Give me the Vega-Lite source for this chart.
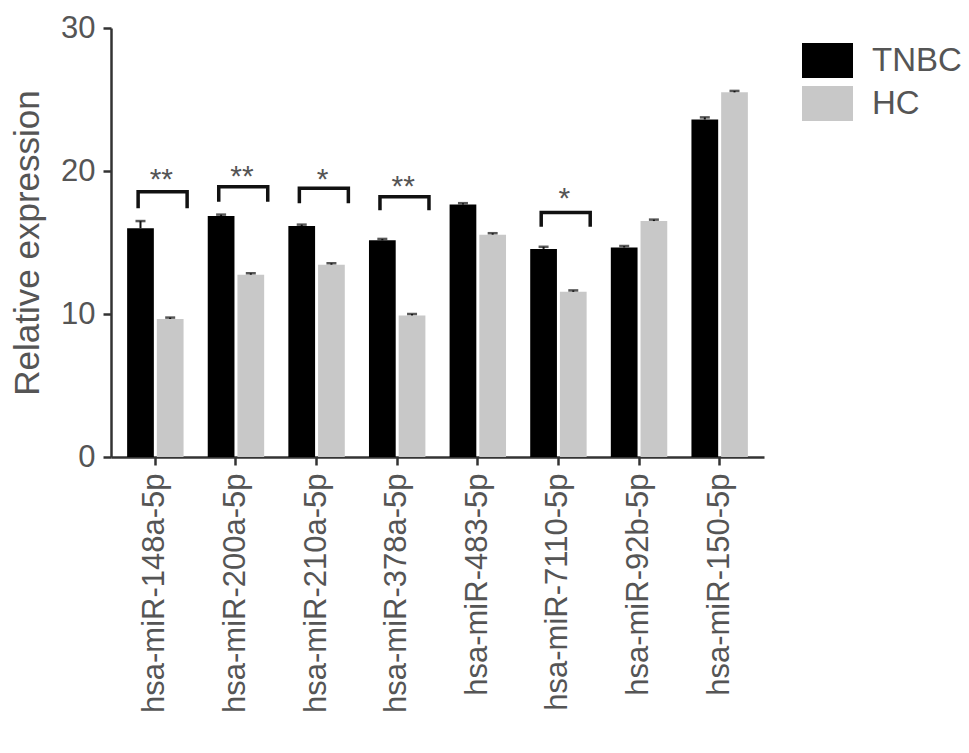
{
  "$schema": "https://vega.github.io/schema/vega-lite/v6.json",
  "autosize": "none",
  "width": 653,
  "height": 429,
  "padding": {"left": 111, "top": 28, "right": 205, "bottom": 296},
  "background": "white",
  "config": {
    "font": "Liberation Sans",
    "view": {"stroke": null}
  },
  "datasets": {
    "bars": [
      {"mirna": "hsa-miR-148a-5p", "group": "TNBC", "value": 16.0, "upper": 16.5},
      {"mirna": "hsa-miR-148a-5p", "group": "HC", "value": 9.65, "upper": 9.75},
      {"mirna": "hsa-miR-200a-5p", "group": "TNBC", "value": 16.85, "upper": 16.95},
      {"mirna": "hsa-miR-200a-5p", "group": "HC", "value": 12.75, "upper": 12.85},
      {"mirna": "hsa-miR-210a-5p", "group": "TNBC", "value": 16.15, "upper": 16.25},
      {"mirna": "hsa-miR-210a-5p", "group": "HC", "value": 13.45, "upper": 13.55},
      {"mirna": "hsa-miR-378a-5p", "group": "TNBC", "value": 15.15, "upper": 15.25},
      {"mirna": "hsa-miR-378a-5p", "group": "HC", "value": 9.9, "upper": 10.0},
      {"mirna": "hsa-miR-483-5p", "group": "TNBC", "value": 17.65, "upper": 17.75},
      {"mirna": "hsa-miR-483-5p", "group": "HC", "value": 15.55, "upper": 15.65},
      {"mirna": "hsa-miR-7110-5p", "group": "TNBC", "value": 14.55, "upper": 14.7},
      {"mirna": "hsa-miR-7110-5p", "group": "HC", "value": 11.55, "upper": 11.65},
      {"mirna": "hsa-miR-92b-5p", "group": "TNBC", "value": 14.65, "upper": 14.75},
      {"mirna": "hsa-miR-92b-5p", "group": "HC", "value": 16.5, "upper": 16.6},
      {"mirna": "hsa-miR-150-5p", "group": "TNBC", "value": 23.6, "upper": 23.75},
      {"mirna": "hsa-miR-150-5p", "group": "HC", "value": 25.5, "upper": 25.6}
    ],
    "brackets": [
      {"mirna": "hsa-miR-148a-5p", "group": "TNBC", "y": 17.4, "ord": 1},
      {"mirna": "hsa-miR-148a-5p", "group": "TNBC", "y": 18.55, "ord": 2},
      {"mirna": "hsa-miR-148a-5p", "group": "HC", "y": 18.55, "ord": 3},
      {"mirna": "hsa-miR-148a-5p", "group": "HC", "y": 17.4, "ord": 4},
      {"mirna": "hsa-miR-200a-5p", "group": "TNBC", "y": 17.85, "ord": 1},
      {"mirna": "hsa-miR-200a-5p", "group": "TNBC", "y": 18.9, "ord": 2},
      {"mirna": "hsa-miR-200a-5p", "group": "HC", "y": 18.9, "ord": 3},
      {"mirna": "hsa-miR-200a-5p", "group": "HC", "y": 17.85, "ord": 4},
      {"mirna": "hsa-miR-210a-5p", "group": "TNBC", "y": 17.75, "ord": 1},
      {"mirna": "hsa-miR-210a-5p", "group": "TNBC", "y": 18.8, "ord": 2},
      {"mirna": "hsa-miR-210a-5p", "group": "HC", "y": 18.8, "ord": 3},
      {"mirna": "hsa-miR-210a-5p", "group": "HC", "y": 17.75, "ord": 4},
      {"mirna": "hsa-miR-378a-5p", "group": "TNBC", "y": 17.25, "ord": 1},
      {"mirna": "hsa-miR-378a-5p", "group": "TNBC", "y": 18.2, "ord": 2},
      {"mirna": "hsa-miR-378a-5p", "group": "HC", "y": 18.2, "ord": 3},
      {"mirna": "hsa-miR-378a-5p", "group": "HC", "y": 17.25, "ord": 4},
      {"mirna": "hsa-miR-7110-5p", "group": "TNBC", "y": 16.1, "ord": 1},
      {"mirna": "hsa-miR-7110-5p", "group": "TNBC", "y": 17.1, "ord": 2},
      {"mirna": "hsa-miR-7110-5p", "group": "HC", "y": 17.1, "ord": 3},
      {"mirna": "hsa-miR-7110-5p", "group": "HC", "y": 16.1, "ord": 4}
    ],
    "stars": [
      {"mirna": "hsa-miR-148a-5p", "label": "**", "y": 19.85},
      {"mirna": "hsa-miR-200a-5p", "label": "**", "y": 20.05},
      {"mirna": "hsa-miR-210a-5p", "label": "*", "y": 19.85},
      {"mirna": "hsa-miR-378a-5p", "label": "**", "y": 19.35},
      {"mirna": "hsa-miR-7110-5p", "label": "*", "y": 18.5}
    ]
  },
  "resolve": {"scale": {"xOffset": "independent"}},
  "encoding": {
    "x": {
      "field": "mirna",
      "type": "nominal",
      "sort": ["hsa-miR-148a-5p", "hsa-miR-200a-5p", "hsa-miR-210a-5p", "hsa-miR-378a-5p", "hsa-miR-483-5p", "hsa-miR-7110-5p", "hsa-miR-92b-5p", "hsa-miR-150-5p"],
      "scale": {"paddingInner": 0.3, "paddingOuter": 0.2},
      "axis": {
        "title": null,
        "labelAngle": -90,
        "labelAlign": "right",
        "labelBaseline": "middle",
        "labelFontSize": 31,
        "labelLimit": 0,
        "labelColor": "#555555",
        "labelPadding": 8,
        "tickSize": 8,
        "tickWidth": 2.5,
        "tickColor": "#333333",
        "domainColor": "#333333",
        "domainWidth": 2.5
      }
    }
  },
  "layer": [
    {
      "data": {"name": "bars"},
      "mark": {"type": "bar"},
      "encoding": {
        "xOffset": {"field": "group", "type": "nominal", "sort": ["TNBC", "HC"], "scale": {"paddingInner": 0.1}},
        "y": {
          "field": "value",
          "type": "quantitative",
          "scale": {"domain": [0, 30], "nice": false},
          "axis": {
            "values": [0, 10, 20, 30],
            "title": "Relative expression",
            "titleFontSize": 35,
            "titleFontWeight": "normal",
            "titleColor": "#555555",
            "titlePadding": 15,
            "labelFontSize": 31,
            "labelColor": "#555555",
            "labelPadding": 8,
            "tickSize": 8,
            "tickWidth": 2.5,
            "tickColor": "#333333",
            "domainColor": "#333333",
            "domainWidth": 2.5,
            "grid": false
          }
        },
        "color": {
          "field": "group",
          "type": "nominal",
          "sort": ["TNBC", "HC"],
          "scale": {"domain": ["TNBC", "HC"], "range": ["#000000", "#c8c8c8"]},
          "legend": {
            "title": null,
            "orient": "none",
            "legendX": 691,
            "legendY": 7,
            "symbolType": "M-1,-0.686H1V0.686H-1Z",
            "symbolSize": 2601,
            "symbolStrokeWidth": 0,
            "symbolOpacity": 1,
            "labelFontSize": 33,
            "labelColor": "#555555",
            "labelOffset": 19,
            "rowPadding": -3,
            "padding": 0
          }
        }
      }
    },
    {
      "data": {"name": "bars"},
      "mark": {"type": "rule", "color": "#111111", "strokeWidth": 2},
      "encoding": {
        "xOffset": {"field": "group", "type": "nominal", "sort": ["TNBC", "HC"], "scale": {"paddingInner": 0.1}},
        "y": {"field": "value", "type": "quantitative"},
        "y2": {"field": "upper"}
      }
    },
    {
      "data": {"name": "bars"},
      "mark": {"type": "tick", "color": "#111111", "thickness": 2.5, "size": 10, "orient": "horizontal"},
      "encoding": {
        "xOffset": {"field": "group", "type": "nominal", "sort": ["TNBC", "HC"], "scale": {"paddingInner": 0.1}},
        "y": {"field": "upper", "type": "quantitative"}
      }
    },
    {
      "data": {"name": "brackets"},
      "mark": {"type": "line", "color": "#111111", "strokeWidth": 3.5, "strokeJoin": "miter"},
      "encoding": {
        "xOffset": {"field": "group", "type": "nominal", "sort": ["TNBC", "HC"], "scale": {"type": "point", "range": [11, 60], "padding": 0}},
        "y": {"field": "y", "type": "quantitative"},
        "detail": {"field": "mirna"},
        "order": {"field": "ord", "type": "quantitative"}
      }
    },
    {
      "data": {"name": "stars"},
      "mark": {"type": "text", "fontSize": 30, "color": "#555555", "baseline": "middle", "dy": 7, "dx": 6},
      "encoding": {
        "y": {"field": "y", "type": "quantitative"},
        "text": {"field": "label"}
      }
    }
  ]
}
